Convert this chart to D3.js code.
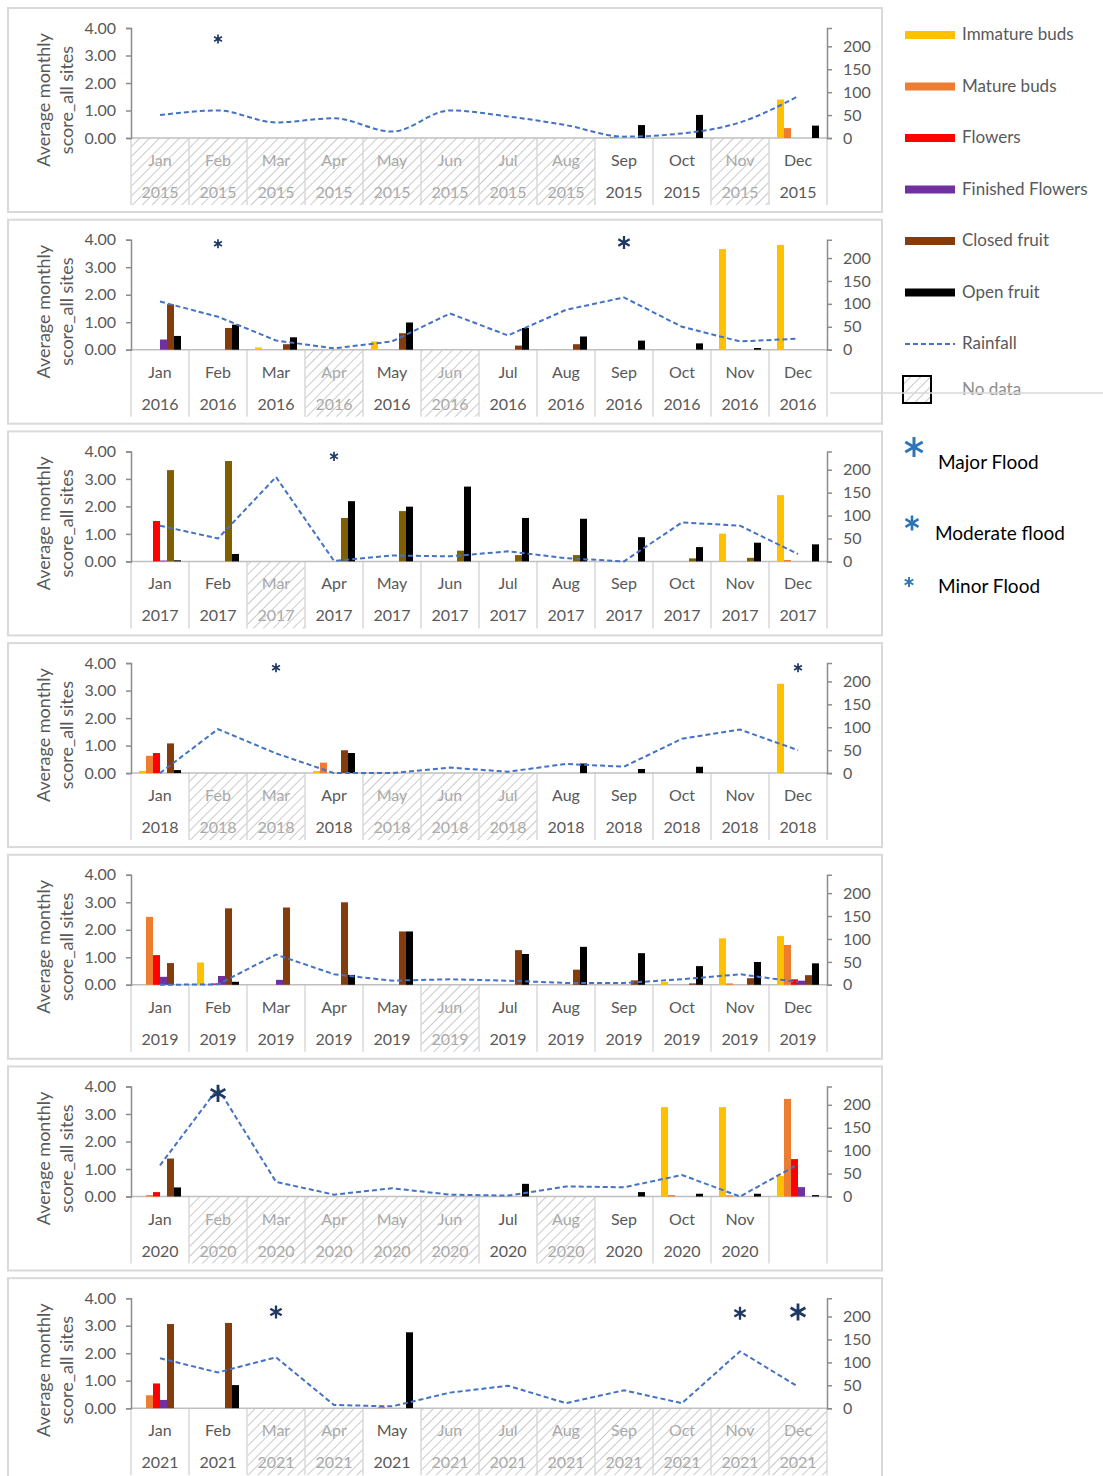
<!DOCTYPE html>
<html>
<head>
<meta charset="utf-8">
<script src="https://cdn.jsdelivr.net/npm/d3@7"></script>
<style>
  body { margin: 0; background: #fff; }
  svg { display: block; font-family: Lato, "Open Sans", sans-serif; }
</style>
</head>
<body>
<svg id="chart" width="1103" height="1476"></svg>
<script>
(function () {
    'use strict';

    // ---- data ----
    const months = ['Jan', 'Feb', 'Mar', 'Apr', 'May', 'Jun', 'Jul', 'Aug', 'Sep', 'Oct', 'Nov', 'Dec'];
    const years = [2015, 2016, 2017, 2018, 2019, 2020, 2021];
    const seriesNames = ['Immature buds', 'Mature buds', 'Flowers', 'Finished Flowers', 'Closed fruit', 'Open fruit'];

    const immatureBuds = [
        [0, 0, 0, 0, 0, 0, 0, 0, 0, 0, 0, 1.40],
        [0, 0, 0.08, 0, 0.30, 0, 0, 0, 0, 0, 3.66, 3.81],
        [0, 0, 0, 0, 0, 0, 0, 0, 0, 0, 1.01, 2.41],
        [0.08, 0, 0, 0.08, 0, 0, 0, 0, 0, 0, 0, 3.25],
        [0, 0.81, 0, 0, 0, 0, 0, 0, 0, 0.10, 1.69, 1.77],
        [0, 0, 0, 0, 0, 0, 0, 0, 0, 3.25, 3.25, 0.75],
        [0, 0, 0, 0, 0, 0, 0, 0, 0, 0, 0, 0]
    ];
    const matureBuds = [
        [0, 0, 0, 0, 0, 0, 0, 0, 0.04, 0, 0, 0.36],
        [0, 0, 0, 0, 0, 0, 0, 0, 0, 0, 0, 0],
        [0, 0, 0, 0, 0, 0, 0, 0, 0, 0, 0, 0.05],
        [0.63, 0, 0, 0.38, 0, 0, 0, 0, 0, 0, 0, 0],
        [2.47, 0, 0, 0, 0, 0, 0, 0, 0, 0, 0.05, 1.45],
        [0.05, 0, 0, 0, 0, 0, 0, 0, 0, 0.05, 0.04, 3.55],
        [0.47, 0, 0, 0, 0.05, 0, 0, 0, 0, 0, 0, 0]
    ];
    const flowers = [
        [0, 0, 0, 0, 0, 0, 0, 0, 0, 0, 0, 0],
        [0, 0, 0, 0, 0, 0, 0, 0, 0, 0, 0, 0],
        [1.47, 0, 0, 0, 0, 0, 0, 0, 0, 0, 0, 0],
        [0.73, 0, 0, 0, 0, 0, 0, 0, 0, 0, 0, 0],
        [1.08, 0.05, 0, 0, 0, 0, 0, 0, 0, 0, 0, 0.20],
        [0.16, 0, 0, 0, 0, 0, 0, 0, 0, 0, 0, 1.36],
        [0.90, 0, 0, 0, 0, 0, 0, 0, 0, 0, 0, 0]
    ];
    const finishedFlowers = [
        [0, 0, 0, 0, 0, 0, 0, 0, 0, 0, 0, 0],
        [0.37, 0, 0, 0, 0, 0, 0, 0, 0, 0, 0, 0],
        [0.03, 0, 0, 0, 0, 0, 0, 0, 0, 0, 0, 0],
        [0, 0, 0, 0, 0, 0, 0, 0, 0, 0, 0, 0],
        [0.29, 0.32, 0.18, 0, 0, 0, 0, 0, 0, 0, 0, 0.15],
        [0, 0, 0, 0, 0, 0, 0, 0, 0, 0, 0, 0.34],
        [0.30, 0, 0, 0, 0, 0, 0, 0, 0, 0, 0, 0]
    ];
    const closedFruit = [
        [0, 0, 0, 0, 0, 0, 0, 0, 0, 0, 0, 0],
        [1.65, 0.79, 0.20, 0, 0.60, 0, 0.15, 0.20, 0, 0, 0, 0],
        [3.32, 3.65, 0, 1.58, 1.83, 0.39, 0.23, 0.23, 0, 0.11, 0.13, 0],
        [1.08, 0, 0, 0.83, 0, 0, 0, 0, 0, 0, 0, 0],
        [0.79, 2.78, 2.81, 3.00, 1.94, 0, 1.26, 0.55, 0.16, 0.05, 0.24, 0.35],
        [1.38, 0, 0, 0, 0, 0, 0, 0, 0, 0, 0, 0],
        [3.06, 3.10, 0, 0, 0, 0, 0, 0, 0, 0, 0, 0]
    ];
    const openFruit = [
        [0, 0, 0, 0, 0, 0, 0, 0, 0.47, 0.84, 0, 0.45],
        [0.50, 0.91, 0.45, 0, 0.99, 0, 0.79, 0.48, 0.33, 0.23, 0.06, 0],
        [0.04, 0.27, 0, 2.19, 1.99, 2.72, 1.58, 1.55, 0.88, 0.52, 0.68, 0.62],
        [0.11, 0, 0, 0.73, 0, 0, 0, 0.35, 0.15, 0.23, 0, 0],
        [0, 0.11, 0, 0.36, 1.94, 0, 1.12, 1.38, 1.15, 0.68, 0.83, 0.78],
        [0.33, 0, 0, 0, 0, 0, 0.46, 0, 0.16, 0.10, 0.10, 0.05],
        [0, 0.84, 0, 0, 2.76, 0, 0, 0, 0, 0, 0, 0]
    ];
    const rainfall = [
        [50, 60, 34, 43, 14, 60, 47, 28, 3, 10, 34, 91],
        [105, 72, 20, 3, 18, 79, 31, 87, 114, 50, 18, 24],
        [78, 50, 184, 1, 13, 11, 22, 7, 0, 85, 78, 16],
        [0, 96, 43, 0, 0, 12, 3, 20, 14, 75, 95, 50],
        [0, 1, 66, 23, 9, 12, 9, 4, 4, 12, 23, 6],
        [68, 236, 32, 4, 18, 4, 2, 22, 20, 47, 0, 70],
        [109, 78, 111, 7, 4, 34, 49, 11, 39, 11, 124, 47]
    ];
    const noData = [
        ['Jan', 'Feb', 'Mar', 'Apr', 'May', 'Jun', 'Jul', 'Aug', 'Nov'],
        ['Apr', 'Jun'],
        ['Mar'],
        ['Feb', 'Mar', 'May', 'Jun', 'Jul'],
        ['Jun'],
        ['Feb', 'Mar', 'Apr', 'May', 'Jun', 'Aug'],
        ['Mar', 'Apr', 'Jun', 'Jul', 'Aug', 'Sep', 'Oct', 'Nov', 'Dec']
    ];
    // cells with no category label
    const noLabel = [[], [], [], [], [], ['Dec'], []];
    // flood events: year, month, level, height on the score axis
    const floods = [
        { year: 2015, month: 'Feb', level: 'minor', at: 3.6 },
        { year: 2016, month: 'Feb', level: 'minor', at: 3.85 },
        { year: 2016, month: 'Sep', level: 'moderate', at: 3.9 },
        { year: 2017, month: 'Apr', level: 'minor', at: 3.82 },
        { year: 2018, month: 'Mar', level: 'minor', at: 3.83 },
        { year: 2018, month: 'Dec', level: 'minor', at: 3.83 },
        { year: 2020, month: 'Feb', level: 'major', at: 3.75 },
        { year: 2021, month: 'Mar', level: 'moderate', at: 3.5 },
        { year: 2021, month: 'Nov', level: 'moderate', at: 3.45 },
        { year: 2021, month: 'Dec', level: 'major', at: 3.5 }
    ];
    const leftTicks = [0, 1, 2, 3, 4];
    const rightTicks = [0, 50, 100, 150, 200];
    const floodNames = [['major', 'Major Flood'], ['moderate', 'Moderate flood'], ['minor', 'Minor Flood']];

    // ---- styles ----
    const seriesColors = ['#ffc000', '#ed7d31', '#ff0000', '#7030a0', '#843c0c', '#000000'];
    const closedFruit2017 = '#7f6000';
    const rainColor = '#4472c4';
    const floodColor = '#1f3864';
    const floodLegendColor = '#2e75b6';
    const textColor = '#595959';
    const gridColor = '#d9d9d9';
    const axisColor = '#8c8c8c';
    const floodRadius = { minor: 4.5, moderate: 6.5, major: 8.5 };
    const floodStroke = { minor: 1.7, moderate: 2.3, major: 2.8 };

    const seriesData = [immatureBuds, matureBuds, flowers, finishedFlowers, closedFruit, openFruit];

    const svg = d3.select('#chart');
    const defs = svg.append('defs');
    const pat = defs.append('pattern')
        .attr('id', 'hatch')
        .attr('patternUnits', 'userSpaceOnUse')
        .attr('width', 7).attr('height', 7)
        .attr('patternTransform', 'rotate(45)');
    pat.append('line')
        .attr('x1', 0).attr('y1', 0).attr('x2', 0).attr('y2', 7)
        .attr('stroke', '#c4c4c4').attr('stroke-width', 2);

    const x = d3.scaleBand().domain(months).range([131, 827]).padding(0);
    const xs = d3.scaleBand().domain(seriesNames).range([8, x.bandwidth() - 8]).padding(0);

    const asteriskPath = r => d3.symbol().type(d3.symbolAsterisk).size((r / 0.59436) ** 2)();

    const panelPitch = 211.7;

    years.forEach((year, i) => {
        const top = 8 + i * panelPitch;
        const g = svg.append('g').attr('class', 'panel');

        const yL = d3.scaleLinear().domain([0, 4]).range([top + 130, top + 20]);
        const yR = d3.scaleLinear().domain([0, 240]).range([top + 130, top + 20]);
        const y0 = yL(0);
        const catBottom = top + 197;

        g.append('rect')
            .attr('x', 8).attr('y', top).attr('width', 874).attr('height', 204)
            .attr('fill', '#fff').attr('stroke', gridColor).attr('stroke-width', 2);

        // category labels
        const cells = g.append('g');
        months.forEach(m => {
            const cx = x(m) + x.bandwidth() / 2;
            const hatched = noData[i].includes(m);
            if (noLabel[i].includes(m)) return;
            const col = hatched ? '#a6a6a6' : textColor;
            cells.append('text')
                .attr('x', cx).attr('y', top + 154)
                .attr('text-anchor', 'middle').attr('dominant-baseline', 'middle')
                .attr('font-size', 16).attr('fill', col).text(m);
            cells.append('text')
                .attr('x', cx).attr('y', top + 186)
                .attr('text-anchor', 'middle').attr('dominant-baseline', 'middle')
                .attr('font-size', 16).attr('fill', col).text(year);
            if (hatched) {
                cells.append('rect')
                    .attr('x', x(m)).attr('y', y0)
                    .attr('width', x.bandwidth()).attr('height', catBottom - y0)
                    .attr('fill', 'url(#hatch)').attr('opacity', 0.9);
            }
        });

        // category separators
        g.selectAll('line.sep')
            .data(months.map(m => x(m)).concat([x.range()[1]]))
            .join('line')
            .attr('class', 'sep')
            .attr('x1', d => d).attr('x2', d => d)
            .attr('y1', y0).attr('y2', catBottom)
            .attr('stroke', gridColor).attr('stroke-width', 1.5);

        g.append('line')
            .attr('x1', x.range()[0]).attr('x2', x.range()[1])
            .attr('y1', y0).attr('y2', y0)
            .attr('stroke', '#bfbfbf').attr('stroke-width', 1.5);

        // bars
        const bars = g.append('g');
        seriesData.forEach((arr, s) => {
            const color = (s === 4 && year === 2017) ? closedFruit2017 : seriesColors[s];
            bars.selectAll(null)
                .data(months.map((m, k) => ({ m, v: arr[i][k] })).filter(d => d.v > 0))
                .join('rect')
                .attr('x', d => x(d.m) + xs(seriesNames[s]))
                .attr('width', xs.bandwidth())
                .attr('y', d => yL(d.v))
                .attr('height', d => y0 - yL(d.v))
                .attr('fill', color);
        });

        // rainfall
        const line = d3.line()
            .x((d, k) => x(months[k]) + x.bandwidth() / 2)
            .y(d => yR(d))
            .curve(i === 0 ? d3.curveMonotoneX : d3.curveLinear);
        g.append('path')
            .attr('d', line(rainfall[i]))
            .attr('fill', 'none')
            .attr('stroke', rainColor)
            .attr('stroke-width', 2)
            .attr('stroke-dasharray', '5,3');

        // axes
        const axL = g.append('g')
            .attr('transform', `translate(${x.range()[0]},0)`)
            .call(d3.axisLeft(yL).tickValues(leftTicks).tickFormat(d3.format('.2f')).tickSizeOuter(0).tickSize(5).tickPadding(10));
        const axR = g.append('g')
            .attr('transform', `translate(${x.range()[1]},0)`)
            .call(d3.axisRight(yR).tickValues(rightTicks).tickSizeOuter(0).tickSize(5).tickPadding(11));
        [axL, axR].forEach(ax => {
            ax.select('.domain').attr('stroke', axisColor).attr('stroke-width', 1.5);
            ax.selectAll('.tick line').attr('stroke', axisColor).attr('stroke-width', 1.5);
            ax.selectAll('.tick text').attr('fill', textColor).attr('font-size', 16).attr('font-family', 'Lato, sans-serif');
        });

        // axis title
        const titleY = top + 92;
        g.append('text')
            .attr('transform', `translate(45,${titleY}) rotate(-90)`)
            .attr('text-anchor', 'middle').attr('dominant-baseline', 'middle')
            .attr('font-size', 18).attr('fill', textColor)
            .text('Average monthly');
        g.append('text')
            .attr('transform', `translate(68,${titleY}) rotate(-90)`)
            .attr('text-anchor', 'middle').attr('dominant-baseline', 'middle')
            .attr('font-size', 18).attr('fill', textColor)
            .text('score_all sites');

        // floods
        g.selectAll('path.flood')
            .data(floods.filter(f => f.year === year))
            .join('path')
            .attr('class', 'flood')
            .attr('transform', d => `translate(${x(d.month) + x.bandwidth() / 2},${yL(d.at)})`)
            .attr('d', d => asteriskPath(floodRadius[d.level]))
            .attr('fill', 'none')
            .attr('stroke', floodColor)
            .attr('stroke-width', d => floodStroke[d.level]);
    });

    // ---- legend ----
    const leg = svg.append('g').attr('class', 'legend');
    const rowY = k => 35 + k * 51.5;
    seriesNames.forEach((name, k) => {
        leg.append('rect')
            .attr('x', 905).attr('y', rowY(k) - 4).attr('width', 50).attr('height', 8)
            .attr('fill', seriesColors[k]);
        leg.append('text')
            .attr('x', 962).attr('y', rowY(k) + 1)
            .attr('dominant-baseline', 'middle')
            .attr('font-size', 17).attr('fill', textColor).text(name);
    });
    leg.append('line')
        .attr('x1', 905).attr('x2', 955).attr('y1', rowY(6)).attr('y2', rowY(6))
        .attr('stroke', rainColor).attr('stroke-width', 2).attr('stroke-dasharray', '5,3');
    leg.append('text')
        .attr('x', 962).attr('y', rowY(6) + 1)
        .attr('dominant-baseline', 'middle')
        .attr('font-size', 17).attr('fill', textColor).text('Rainfall');
    leg.append('rect')
        .attr('x', 903).attr('y', 376).attr('width', 28).attr('height', 27)
        .attr('fill', 'url(#hatch)').attr('stroke', '#000').attr('stroke-width', 2);
    leg.append('text')
        .attr('x', 962).attr('y', 391)
        .attr('dominant-baseline', 'middle')
        .attr('font-size', 17).attr('fill', '#8c8c8c').text('No data');
    leg.append('line')
        .attr('x1', 830).attr('x2', 1103).attr('y1', 393).attr('y2', 393)
        .attr('stroke', gridColor).attr('stroke-width', 1.5);

    const floodLegend = [
        { sym: [914, 447], r: 10, w: 3, text: [938, 464] },
        { sym: [912, 523], r: 7.5, w: 2.6, text: [935, 535] },
        { sym: [909, 582], r: 5, w: 1.9, text: [938, 588] }
    ];
    floodNames.forEach(([lvl, label], k) => {
        const f = floodLegend[k];
        leg.append('path')
            .attr('transform', `translate(${f.sym[0]},${f.sym[1]})`)
            .attr('d', asteriskPath(f.r))
            .attr('fill', 'none').attr('stroke', floodLegendColor).attr('stroke-width', f.w);
        leg.append('text')
            .attr('x', f.text[0]).attr('y', f.text[1])
            .attr('dominant-baseline', 'middle')
            .attr('font-size', 19).attr('fill', '#000').text(label);
    });
})();
</script>
</body>
</html>
